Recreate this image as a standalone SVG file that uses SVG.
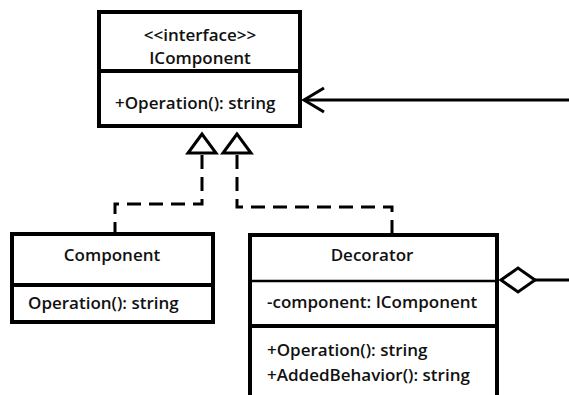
<svg xmlns="http://www.w3.org/2000/svg" width="569" height="395" viewBox="0 0 569 395">
  <style>
    .box { fill: #fff; stroke: #000; stroke-width: 4; }
    .sep { stroke: #000; stroke-width: 4; }
    .sep-thin { stroke: #000; stroke-width: 2.5; }
    .txt { font-family: "Open Sans", "Noto Sans", sans-serif; font-weight: 600; font-size: 17px; fill: #111; }
    .mid { text-anchor: middle; }
    .dash { fill: none; stroke: #000; stroke-width: 3; stroke-dasharray: 14 8; }
    .solid { fill: none; stroke: #000; stroke-width: 3; }
    .head { fill: #fff; stroke: #000; stroke-width: 3; stroke-linejoin: miter; }
  </style>
  <rect width="569" height="395" fill="#fff"/>

  <g id="icomponent">
    <rect class="box" x="99" y="12" width="201" height="114"/>
    <line class="sep" x1="99" y1="71" x2="300" y2="71"/>
    <text class="txt mid" x="200" y="41">&lt;&lt;interface&gt;&gt;</text>
    <text class="txt mid" x="200" y="64">IComponent</text>
    <text class="txt" x="115" y="109">+Operation(): string</text>
  </g>

  <g id="component">
    <rect class="box" x="12" y="234" width="201" height="88"/>
    <line class="sep" x1="12" y1="285" x2="213" y2="285"/>
    <text class="txt mid" x="112" y="261">Component</text>
    <text class="txt" x="28" y="309">Operation(): string</text>
  </g>

  <g id="decorator">
    <rect class="box" x="250" y="235" width="247" height="180"/>
    <line class="sep-thin" x1="250" y1="281" x2="497" y2="281"/>
    <line class="sep" x1="250" y1="326" x2="497" y2="326"/>
    <text class="txt mid" x="372" y="261">Decorator</text>
    <text class="txt" x="267" y="308">-component: IComponent</text>
    <text class="txt" x="267" y="356">+Operation(): string</text>
    <text class="txt" x="267" y="381">+AddedBehavior(): string</text>
  </g>

  <g id="connectors">
    <!-- Component realizes IComponent -->
    <path class="dash" d="M202 155 V204 H115 V232"/>
    <polygon class="head" points="202,134 188,153 216,153"/>
    <!-- Decorator realizes IComponent -->
    <path class="dash" d="M237 155 V207 H392 V233"/>
    <polygon class="head" points="237,134 223,153 251,153"/>
    <!-- association into IComponent -->
    <line class="solid" x1="569" y1="100" x2="304" y2="100"/>
    <polyline class="solid" points="324,88 304,100 324,112"/>
    <!-- aggregation from Decorator -->
    <line class="solid" x1="535" y1="280" x2="569" y2="280"/>
    <polygon class="head" points="501,280 518,268 535,280 518,292"/>
  </g>
</svg>
